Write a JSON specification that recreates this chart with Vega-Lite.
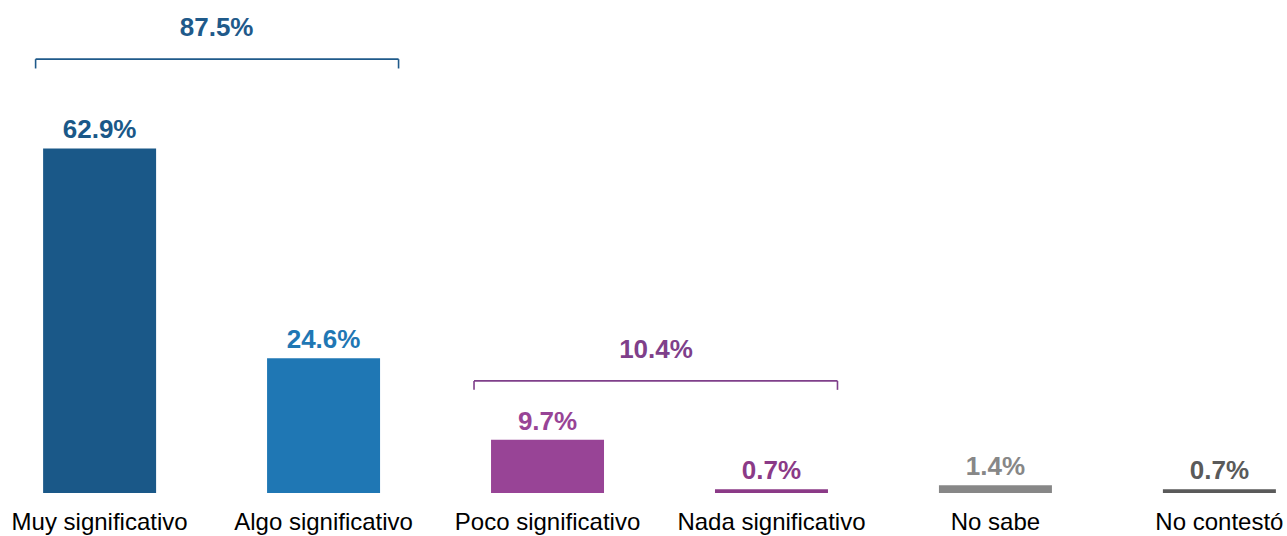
{
  "$schema": "https://vega.github.io/schema/vega-lite/v6.json",
  "width": 1287,
  "height": 493,
  "padding": {"top": 0, "left": 0, "right": 0, "bottom": 43},
  "autosize": {"type": "none"},
  "background": "white",
  "config": {"view": {"stroke": null}, "font": "Liberation Sans"},
  "data": {"values": [
    {"categoria": "Muy significativo", "valor": 62.9, "etiqueta": "62.9%"},
    {"categoria": "Algo significativo", "valor": 24.6, "etiqueta": "24.6%"},
    {"categoria": "Poco significativo", "valor": 9.7, "etiqueta": "9.7%"},
    {"categoria": "Nada significativo", "valor": 0.7, "etiqueta": "0.7%"},
    {"categoria": "No sabe", "valor": 1.4, "etiqueta": "1.4%"},
    {"categoria": "No contestó", "valor": 0.7, "etiqueta": "0.7%"}
  ]},
  "encoding": {
    "x": {
      "field": "categoria", "type": "nominal", "sort": null,
      "scale": {"range": [0, 1319], "paddingInner": 0.4955, "paddingOuter": 0.1925},
      "axis": {"title": null, "domain": false, "ticks": false, "tickSize": 0, "labelAngle": 0,
               "labelFont": "Liberation Sans", "labelFontSize": 24, "labelColor": "#000000",
               "labelPadding": 17, "labelOverlap": false, "labelLimit": 400}
    }
  },
  "layer": [
    {
      "mark": {"type": "bar"},
      "encoding": {
        "y": {"field": "valor", "type": "quantitative", "scale": {"domain": [0, 89.3]}, "axis": null},
        "color": {"field": "categoria", "type": "nominal", "legend": null,
          "scale": {"domain": ["Muy significativo", "Algo significativo", "Poco significativo", "Nada significativo", "No sabe", "No contestó"],
                    "range": ["#1a5888", "#1f77b4", "#984496", "#8b3a87", "#878787", "#5a5a5a"]}}
      }
    },
    {
      "mark": {"type": "text", "baseline": "alphabetic", "dy": -10, "fontSize": 26, "fontWeight": "bold", "font": "Liberation Sans"},
      "encoding": {
        "y": {"field": "valor", "type": "quantitative"},
        "text": {"field": "etiqueta"},
        "color": {"field": "categoria", "type": "nominal", "legend": null}
      }
    },
    {
      "data": {"values": [{"desde": "Muy significativo", "hasta": "Algo significativo", "total": "87.5%"}]},
      "mark": {"type": "rule", "color": "#1f5a8a", "strokeWidth": 1.6, "xOffset": -64, "x2Offset": 75},
      "encoding": {"x": {"field": "desde"}, "x2": {"field": "hasta"}, "y": {"datum": 79.2}}
    },
    {
      "data": {"values": [{"desde": "Muy significativo", "hasta": "Algo significativo", "total": "87.5%"}]},
      "mark": {"type": "rule", "color": "#1f5a8a", "strokeWidth": 1.6, "xOffset": -64},
      "encoding": {"x": {"field": "desde"}, "y": {"datum": 79.2}, "y2": {"datum": 77.5}}
    },
    {
      "data": {"values": [{"desde": "Muy significativo", "hasta": "Algo significativo", "total": "87.5%"}]},
      "mark": {"type": "rule", "color": "#1f5a8a", "strokeWidth": 1.6, "xOffset": 75},
      "encoding": {"x": {"field": "hasta"}, "y": {"datum": 79.2}, "y2": {"datum": 77.5}}
    },
    {
      "data": {"values": [{"desde": "Muy significativo", "hasta": "Algo significativo", "total": "87.5%"}]},
      "mark": {"type": "text", "color": "#1f5a8a", "baseline": "alphabetic", "dx": 117, "fontSize": 26, "fontWeight": "bold", "font": "Liberation Sans"},
      "encoding": {"x": {"field": "desde"}, "y": {"datum": 83.4}, "text": {"field": "total"}}
    },
    {
      "data": {"values": [{"desde": "Poco significativo", "hasta": "Nada significativo", "total": "10.4%"}]},
      "mark": {"type": "rule", "color": "#7f3f8a", "strokeWidth": 1.6, "xOffset": -73.5, "x2Offset": 66},
      "encoding": {"x": {"field": "desde"}, "x2": {"field": "hasta"}, "y": {"datum": 20.46}}
    },
    {
      "data": {"values": [{"desde": "Poco significativo", "hasta": "Nada significativo", "total": "10.4%"}]},
      "mark": {"type": "rule", "color": "#7f3f8a", "strokeWidth": 1.6, "xOffset": -73.5},
      "encoding": {"x": {"field": "desde"}, "y": {"datum": 20.46}, "y2": {"datum": 18.83}}
    },
    {
      "data": {"values": [{"desde": "Poco significativo", "hasta": "Nada significativo", "total": "10.4%"}]},
      "mark": {"type": "rule", "color": "#7f3f8a", "strokeWidth": 1.6, "xOffset": 66},
      "encoding": {"x": {"field": "hasta"}, "y": {"datum": 20.46}, "y2": {"datum": 18.83}}
    },
    {
      "data": {"values": [{"desde": "Poco significativo", "hasta": "Nada significativo", "total": "10.4%"}]},
      "mark": {"type": "text", "color": "#7f3f8a", "baseline": "alphabetic", "dx": 108.5, "fontSize": 26, "fontWeight": "bold", "font": "Liberation Sans"},
      "encoding": {"x": {"field": "desde"}, "y": {"datum": 24.7}, "text": {"field": "total"}}
    }
  ]
}
